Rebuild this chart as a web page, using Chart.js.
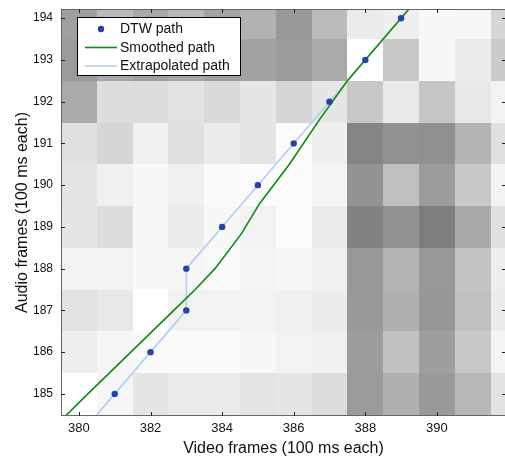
<!DOCTYPE html>
<html lang="en">
<head>
    <meta charset="UTF-8">
    <script src="https://cdn.jsdelivr.net/npm/chart.js@4.4.1/dist/chart.umd.min.js"></script>
    <title>DTW path</title>
    <style>
        body { margin: 0; overflow: hidden; background: #fff; }
    </style>
</head>
<body>
    <canvas id="chart" width="510" height="458"></canvas>

    <script>
        // cell grid behind the paths (gray level of each frame pair, 0 = black, 255 = white)
        const videoFrames = [380, 381, 382, 383, 384, 385, 386, 387, 388, 389, 390, 391, 392];
        const audioFrames = [194, 193, 192, 191, 190, 189, 188, 187, 186, 185];
        const grayLevels = [
            [160, 187, 168, 184, 164, 178, 153, 187, 235, 239, 248, 246, 214],
            [154, 168, 158, 166, 160, 162, 156, 170, 255, 200, 248, 236, 203],
            [170, 221, 220, 226, 218, 230, 213, 230, 200, 234, 198, 232, 242],
            [224, 214, 240, 224, 236, 228, 251, 239, 133, 146, 144, 180, 224],
            [228, 240, 248, 240, 250, 251, 251, 244, 147, 192, 156, 200, 242],
            [230, 220, 248, 236, 248, 242, 251, 235, 131, 146, 126, 169, 224],
            [242, 242, 248, 246, 250, 244, 246, 240, 152, 180, 152, 196, 238],
            [226, 232, 255, 242, 242, 242, 240, 236, 153, 176, 151, 192, 236],
            [238, 246, 250, 250, 250, 248, 242, 240, 156, 194, 158, 200, 244],
            [255, 246, 230, 235, 235, 228, 230, 221, 154, 176, 153, 184, 226]
        ];

        // DTW path points
        const dtwX = [381, 382, 383, 383, 384, 385, 386, 387, 388, 389];
        const dtwY = [185, 186, 187, 188, 189, 190, 191, 192, 193, 194];

        // smoothed path
        const smoothX = [379.6, 380.25, 381.45, 382.65, 383.25, 383.8, 384.2, 384.55, 385.04, 385.88, 386.72, 387.5, 388.5, 389.5];
        const smoothY = [184.45, 185, 186, 187, 187.5, 188, 188.45, 188.85, 189.55, 190.5, 191.57, 192.5, 193.5, 194.5];

        // extrapolated path (DTW path extended at both ends)
        const extrapX = [380.3, 381, 382, 383, 383, 384, 385, 386, 387, 388, 389, 389.7];
        const extrapY = [184.3, 185, 186, 187, 188, 189, 190, 191, 192, 193, 194, 194.7];

        const xTicks = [380, 382, 384, 386, 388, 390];
        const yTicks = [185, 186, 187, 188, 189, 190, 191, 192, 193, 194];

        const toPoints = (xs, ys) => xs.map((x, i) => ({ x: x, y: ys[i] }));

        // draws the gray cells under the datasets
        const cellPlugin = {
            id: 'cells',
            beforeDatasetsDraw(chart) {
                const { ctx, chartArea, scales: { x, y } } = chart;
                ctx.save();
                ctx.beginPath();
                ctx.rect(chartArea.left, chartArea.top, chartArea.right - chartArea.left, chartArea.bottom - chartArea.top);
                ctx.clip();
                audioFrames.forEach((a, r) => {
                    videoFrames.forEach((v, c) => {
                        const g = grayLevels[r][c];
                        const x0 = x.getPixelForValue(v - 0.5), x1 = x.getPixelForValue(v + 0.5);
                        const y0 = y.getPixelForValue(a + 0.5), y1 = y.getPixelForValue(a - 0.5);
                        ctx.fillStyle = 'rgb(' + g + ',' + g + ',' + g + ')';
                        ctx.fillRect(Math.round(x0), Math.round(y0), Math.round(x1) - Math.round(x0), Math.round(y1) - Math.round(y0));
                    });
                });
                ctx.restore();
            }
        };

        // box round the plot, inward ticks, legend
        const framePlugin = {
            id: 'frame',
            afterDatasetsDraw(chart) {
                const { ctx, chartArea: ca, scales: { x, y } } = chart;
                ctx.save();
                ctx.strokeStyle = '#666';
                ctx.lineWidth = 1;
                ctx.strokeRect(ca.left + 0.5, ca.top + 0.5, ca.right - ca.left - 1, ca.bottom - ca.top - 1);
                ctx.strokeStyle = '#222';
                ctx.beginPath();
                xTicks.forEach(t => {
                    const px = Math.round(x.getPixelForValue(t)) + 0.5;
                    ctx.moveTo(px, ca.bottom); ctx.lineTo(px, ca.bottom - 4);
                    ctx.moveTo(px, ca.top); ctx.lineTo(px, ca.top + 4);
                });
                yTicks.forEach(t => {
                    const py = Math.round(y.getPixelForValue(t)) + 0.5;
                    ctx.moveTo(ca.left, py); ctx.lineTo(ca.left + 4, py);
                    ctx.moveTo(ca.right, py); ctx.lineTo(ca.right - 4, py);
                });
                ctx.stroke();

                // legend box
                const bx = 77.5, by = 17.5, bw = 163, bh = 58;
                ctx.fillStyle = '#fff';
                ctx.fillRect(bx, by, bw, bh);
                ctx.strokeStyle = '#000';
                ctx.strokeRect(bx, by, bw, bh);
                const rows = [29, 47.5, 66];
                ctx.font = '14px "Liberation Sans", Arial, sans-serif';
                ctx.textBaseline = 'middle';
                chart.data.datasets.forEach((ds, i) => {
                    const ry = rows[i];
                    if (ds.showLine) {
                        ctx.strokeStyle = ds.borderColor;
                        ctx.lineWidth = ds.borderWidth;
                        ctx.beginPath();
                        ctx.moveTo(85, ry); ctx.lineTo(117, ry);
                        ctx.stroke();
                    } else {
                        ctx.fillStyle = ds.backgroundColor;
                        ctx.beginPath();
                        ctx.arc(101, ry, 3.2, 0, Math.PI * 2);
                        ctx.fill();
                    }
                    ctx.fillStyle = '#111';
                    ctx.fillText(ds.label, 120, ry + 0.5);
                });
                ctx.restore();
            }
        };

        const ctx = document.getElementById('chart').getContext('2d');
        const myChart = new Chart(ctx, {
            type: 'scatter',
            data: {
                datasets: [{
                    label: 'DTW path',
                    data: toPoints(dtwX, dtwY),
                    backgroundColor: '#2443a3',
                    borderColor: '#2443a3',
                    pointRadius: 3.2,
                    pointBorderWidth: 0,
                    showLine: false,
                    order: 0
                }, {
                    label: 'Smoothed path',
                    data: toPoints(smoothX, smoothY),
                    borderColor: '#0e8a0e',
                    borderWidth: 1.6,
                    pointRadius: 0,
                    showLine: true,
                    order: 1
                }, {
                    label: 'Extrapolated path',
                    data: toPoints(extrapX, extrapY),
                    borderColor: '#b7ccf4',
                    borderWidth: 1.6,
                    pointRadius: 0,
                    showLine: true,
                    order: 2
                }]
            },
            options: {
                responsive: false,
                animation: false,
                layout: { padding: { top: 9, right: 4, left: 0, bottom: 0 } },
                plugins: {
                    legend: { display: false },
                    tooltip: { enabled: false }
                },
                scales: {
                    x: {
                        type: 'linear',
                        min: 379.5,
                        max: 391.93,
                        afterBuildTicks: s => { s.ticks = xTicks.map(v => ({ value: v })); },
                        afterFit: s => { s.height = 42; s.paddingLeft = 0; s.paddingRight = 0; },
                        grid: { display: false, drawTicks: false },
                        border: { display: false },
                        ticks: {
                            padding: 5,
                            color: '#111',
                            font: { family: '"Liberation Sans", Arial, sans-serif', size: 13 }
                        },
                        title: {
                            display: true,
                            text: 'Video frames (100 ms each)',
                            color: '#111',
                            padding: { top: 0, bottom: 0 },
                            font: { family: '"Liberation Sans", Arial, sans-serif', size: 16 }
                        }
                    },
                    y: {
                        type: 'linear',
                        min: 184.47,
                        max: 194.22,
                        afterBuildTicks: s => { s.ticks = yTicks.map(v => ({ value: v })); },
                        afterFit: s => { s.width = 61; s.paddingTop = 0; s.paddingBottom = 0; },
                        grid: { display: false, drawTicks: false },
                        border: { display: false },
                        ticks: {
                            padding: 8,
                            color: '#111',
                            font: { family: '"Liberation Sans", Arial, sans-serif', size: 12 }
                        },
                        title: {
                            display: true,
                            text: 'Audio frames (100 ms each)',
                            color: '#111',
                            padding: { top: 13, bottom: 0 },
                            font: { family: '"Liberation Sans", Arial, sans-serif', size: 16 }
                        }
                    }
                }
            },
            plugins: [cellPlugin, framePlugin]
        });
    </script>
</body>
</html>
